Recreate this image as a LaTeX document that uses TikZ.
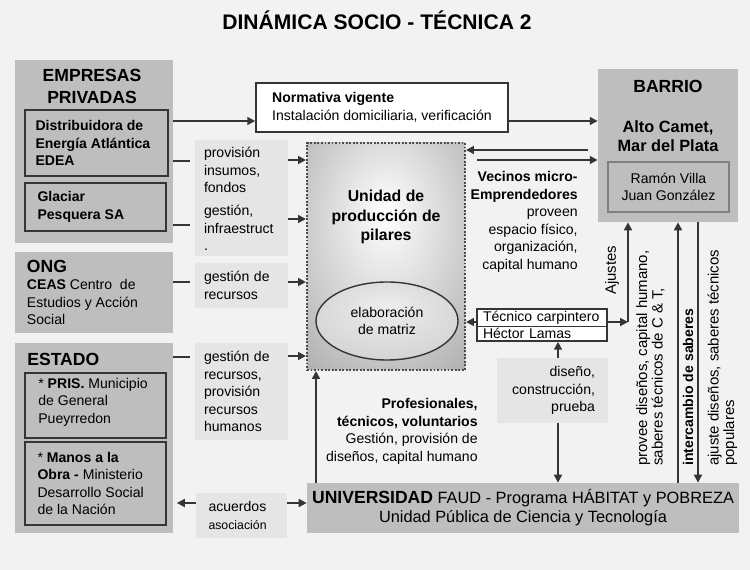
\documentclass[tikz,border=0pt]{standalone}
\usepackage{fontspec}
\setmainfont{Liberation Sans}
\usetikzlibrary{arrows.meta}
\usetikzlibrary{shapes.geometric,shapes.multipart}

\definecolor{bgcol}{HTML}{F2F2F2}
\definecolor{grpcol}{HTML}{BEBEBE}
\definecolor{lblcol}{HTML}{E5E5E5}
\definecolor{edgecol}{HTML}{353535}
\newcommand{\pix}[1]{#1*0.02cm}
\newcommand{\ssz}{\fontsize{8}{10}\selectfont}
\pgfdeclareradialshading{pilar}{\pgfpoint{0bp}{10bp}}{color(0bp)=(white); color(50bp)=(black!40); color(72bp)=(black!52)}
\pgfdeclareradialshading{matriz}{\pgfpoint{0bp}{10bp}}{color(0bp)=(black!7); color(30bp)=(black!17); color(50bp)=(black!36)}

\begin{document}
\begin{tikzpicture}[x=0.02cm, y=-0.02cm, font=\ssz]
            \tikzstyle{grp} = [fill=grpcol, inner sep=0pt]
            \tikzstyle{inbox} = [draw=edgecol, line width=1pt, fill=grpcol, inner sep=0pt]
            \tikzstyle{lbl} = [fill=lblcol, inner sep=0pt]
            \tikzstyle{line} = [line width=1pt, draw=edgecol]
            \tikzstyle{arr} = [line, -{Triangle[length=4.5pt,width=4.5pt]}]
            \tikzstyle{vtxt} = [rotate=90, anchor=west, align=left, inner sep=0pt, font=\fontsize{8.5}{8.8}\selectfont]
            \fill[bgcol] (0, 0) rectangle (750, 570);
            \node[font=\fontsize{12}{14}\selectfont\bfseries] (title) at (377, 20) {DINÁMICA SOCIO - TÉCNICA 2};
            \node[grp, minimum width=\pix{158}, minimum height=\pix{183}] (empresas) at (94, 151.5) {};
            \node[font=\fontsize{10}{12.5}\selectfont\bfseries, align=center] (empresastit) at (92, 86) {EMPRESAS\\PRIVADAS};
            \node[inbox, minimum width=\pix{143}, minimum height=\pix{66}, text width=\pix{122}, align=flush left, font=\ssz\bfseries] (edea) at (96.5, 143) {Distribuidora de\\Energía Atlántica\\EDEA};
            \node[inbox, minimum width=\pix{141}, minimum height=\pix{48}, text width=\pix{116}, align=flush left, font=\ssz\bfseries] (glaciar) at (95.5, 207) {Glaciar\\Pesquera SA};
            \node[grp, minimum width=\pix{158}, minimum height=\pix{81}, text width=\pix{134}, align=flush left] (ong) at (94, 292.5) {{\fontsize{10}{12}\selectfont\bfseries ONG}\\\textbf{CEAS} Centro \ de\\Estudios y Acción\\Social};
            \node[grp, minimum width=\pix{158}, minimum height=\pix{190}] (estado) at (94, 438) {};
            \node[font=\fontsize{10}{12}\selectfont\bfseries, anchor=west, inner sep=0pt] (estadotit) at (27, 359) {ESTADO};
            \node[inbox, minimum width=\pix{141}, minimum height=\pix{65}] (pris) at (95.5, 405.5) {};
            \node[anchor=north west, align=left, inner sep=0pt] (pristxt) at (38, 377.5) {* \textbf{PRIS.} Municipio\\de General\\Pueyrredon};
            \node[inbox, minimum width=\pix{141}, minimum height=\pix{83}, text width=\pix{116}, align=flush left] (manos) at (95.5, 483.5) {* \textbf{Manos a la}\\\textbf{Obra -} Ministerio\\Desarrollo Social\\de la Nación};
            \node[draw=edgecol, line width=0.9pt, fill=white, minimum width=\pix{252}, minimum height=\pix{49}, align=left, inner sep=0pt] (normativa) at (382, 107.5) {\textbf{Normativa vigente}\\Instalación domiciliaria, verificación};
            \node[draw=black!70, line width=1.2pt, dash pattern=on 1.1pt off 0.9pt, shading=pilar, minimum width=\pix{158}, minimum height=\pix{227}] (unidad) at (386, 256.5) {};
            \node[font=\fontsize{9}{11}\selectfont\bfseries, align=center] (unidadtit) at (386, 217) {Unidad de\\producción de\\pilares};
            \node[ellipse, draw=edgecol, line width=0.8pt, shading=matriz, minimum width=\pix{142}, minimum height=\pix{78}, align=center, inner sep=0pt] (matriz) at (387, 321) {elaboración\\de matriz};
            \node[grp, minimum width=\pix{140}, minimum height=\pix{153}] (barrio) at (668, 145.5) {};
            \node[font=\fontsize{10}{12}\selectfont\bfseries] (barriotit) at (668, 86) {BARRIO};
            \node[font=\fontsize{9.3}{10.8}\selectfont\bfseries, align=center] (camet) at (668, 136.5) {Alto Camet,\\Mar del Plata};
            \node[draw=black!50, line width=0.7pt, fill=grpcol, minimum width=\pix{121}, minimum height=\pix{50}, align=center, inner sep=0pt] (villa) at (668.5, 187) {Ramón Villa\\Juan González};
            \node[anchor=east, align=right, inner sep=0pt] (vecinostxt) at (578, 222) {\textbf{Vecinos micro-}\\\textbf{Emprendedores}\\proveen\\espacio físico,\\organización,\\capital humano};
            \node[rectangle split, rectangle split parts=2, draw=edgecol, line width=0.8pt, fill=white, text width=\pix{118}, align=left, inner xsep=\pix{6}, inner ysep=0.8pt] (tecnico) at (542, 325) {Técnico carpintero\nodepart{two}Héctor Lamas};
            \node[lbl, minimum width=\pix{111}, minimum height=\pix{65}, text width=\pix{85}, align=right] (diseno) at (552.5, 390.5) {diseño,\\construcción,\\prueba};
            \node[anchor=east, align=right, inner sep=0pt] (profes) at (478, 431.5) {\textbf{Profesionales,}\\\textbf{técnicos, voluntarios}\\Gestión, provisión de\\diseños, capital humano};
            \node[grp, minimum width=\pix{432}, minimum height=\pix{50}, align=center, font=\fontsize{9.3}{10.8}\selectfont] (univ) at (523, 508) {{\fontsize{10}{10.8}\selectfont\bfseries UNIVERSIDAD} FAUD - Programa HÁBITAT y POBREZA\\Unidad Pública de Ciencia y Tecnología};
            \node[lbl, minimum width=\pix{93}, minimum height=\pix{60}, text width=\pix{75}, align=left] (lblprov) at (241.5, 170) {provisión\\insumos,\\fondos};
            \node[lbl, minimum width=\pix{93}, minimum height=\pix{56}, text width=\pix{75}, align=left] (lblgest) at (241.5, 228) {gestión,\\infraestruct\\.};
            \node[lbl, minimum width=\pix{93}, minimum height=\pix{45}, text width=\pix{75}, align=left] (lblrec) at (241.5, 285.5) {gestión de\\recursos};
            \node[lbl, minimum width=\pix{93}, minimum height=\pix{97}, text width=\pix{75}, align=left] (lblrech) at (241.5, 391.5) {gestión de\\recursos,\\provisión\\recursos\\humanos};
            \node[lbl, minimum width=\pix{91}, minimum height=\pix{45}, text width=\pix{66}, align=left] (lblacu) at (241.5, 515.5) {acuerdos\\{\fontsize{7}{8}\selectfont asociación}};
            \node[vtxt] (ajustestxt) at (612, 295) {Ajustes};
            \node[vtxt] (proveetxt) at (650.5, 466) {provee diseños, capital humano,\\saberes técnicos de C \& T,};
            \node[vtxt, font=\ssz\bfseries] (intertxt) at (688, 466) {intercambio de saberes};
            \node[vtxt] (ajustetxt) at (722.5, 466) {ajuste diseños, saberes técnicos\\populares};
            \coordinate (ajuste) at (628, 322);
            \draw[arr] (empresas.east |- 0,121) -- (normativa.west |- 0,121);
            \draw[arr] (normativa.east |- 0,121) -- (barrio.west |- 0,121);
            \draw[line, shorten >=2.8pt] (empresas.east |- 0,161) -- (lblprov.west |- 0,161);
            \draw[line, shorten >=2.8pt] (empresas.east |- 0,225) -- (lblgest.west |- 0,225);
            \draw[line, shorten >=2.8pt] (ong.east |- 0,282) -- (lblrec.west |- 0,282);
            \draw[line, shorten >=2.8pt] (estado.east |- 0,357) -- (lblrech.west |- 0,357);
            \draw[arr] (lblprov.east |- 0,160) -- (unidad.west |- 0,160);
            \draw[arr] (lblgest.east |- 0,219) -- (unidad.west |- 0,219);
            \draw[arr] (lblrec.east |- 0,282) -- (unidad.west |- 0,282);
            \draw[arr] (lblrech.east |- 0,356) -- (unidad.west |- 0,356);
            \draw[arr, shorten >=2pt] (lblacu.west |- 0,503) -- (estado.east |- 0,503);
            \draw[arr] (lblacu.east |- 0,503) -- (univ.west |- 0,503);
            \draw[arr] (univ.north -| 316,0) -- (unidad.south -| 316,0);
            \draw[arr, shorten <=5.6pt] (barrio.west |- 0,150) -- (unidad.east |- 0,150);
            \draw[arr, shorten <=6.5pt] (unidad.east |- 0,160) -- (barrio.west |- 0,160);
            \draw[arr] (tecnico.west |- 0,322) -- (unidad.east |- 0,322);
            \draw[arr] (tecnico.east |- ajuste) -- (ajuste);
            \draw[arr] (ajuste) -- (barrio.south -| ajuste);
            \draw[arr] (diseno.north -| 558,0) -- (tecnico.south -| 558,0);
            \draw[arr] (diseno.south -| 558,0) -- (univ.north -| 558,0);
            \draw[arr] (univ.north -| 678,0) -- (barrio.south -| 678,0);
            \draw[arr] (barrio.south -| 698,0) -- (univ.north -| 698,0);
        \end{tikzpicture}
\end{document}
